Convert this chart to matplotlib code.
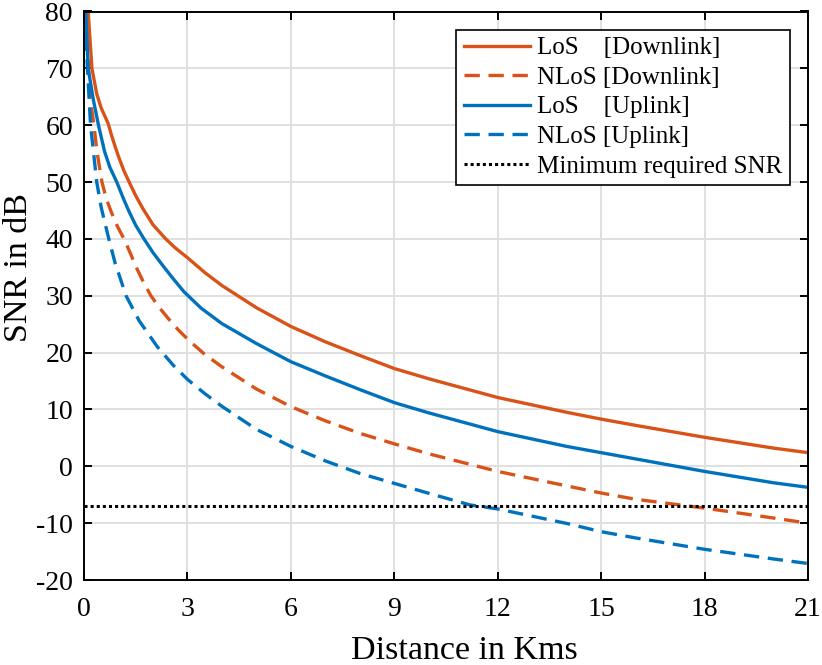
import matplotlib
matplotlib.use("Agg")
import matplotlib.pyplot as plt

# ---- data ----
los_dl_x = [0.12, 0.23, 0.37, 0.5, 0.7, 0.8, 0.9, 1.0, 1.15, 1.31, 1.5, 1.7, 2.0, 2.37, 2.65, 3.0, 3.5, 4.0, 5.0, 6.0, 7.0, 8.0, 9.0, 10.0, 12.0, 14.0, 15.0, 16.0, 18.0, 20.0, 21.0]
los_dl_y = [80, 70, 65.5, 63, 60.3, 58.2, 56.3, 54.5, 52.1, 50, 47.6, 45.4, 42.5, 40, 38.4, 36.7, 34.1, 31.8, 27.9, 24.6, 21.9, 19.5, 17.2, 15.4, 12.1, 9.5, 8.3, 7.2, 5.1, 3.2, 2.4]

nlos_dl_x = [0.05, 0.17, 0.29, 0.37, 0.52, 0.65, 0.8, 0.97, 1.16, 1.35, 1.5, 1.7, 1.94, 2.2, 2.5, 2.75, 3.05, 3.5, 4.0, 5.0, 6.0, 7.0, 8.0, 9.0, 10.0, 12.0, 14.0, 15.0, 16.0, 18.0, 20.0, 21.0]
nlos_dl_y = [80, 65, 60, 55.6, 50, 47, 44.6, 42.2, 40, 37.4, 35.2, 32.7, 30, 27.8, 25.6, 23.9, 22.1, 19.7, 17.5, 13.6, 10.5, 8.0, 5.8, 3.95, 2.2, -0.9, -3.45, -4.7, -5.8, -7.35, -9.1, -10.0]

los_ul_x = [0.05, 0.12, 0.27, 0.42, 0.6, 0.75, 0.95, 1.15, 1.3, 1.5, 1.74, 2.0, 2.3, 2.6, 2.9, 3.4, 4.0, 5.0, 6.0, 7.0, 8.0, 9.0, 10.0, 12.0, 14.0, 15.0, 16.0, 18.0, 20.0, 21.0]
los_ul_y = [80, 70, 64.5, 60, 55.3, 52.6, 50, 47, 44.9, 42.4, 40, 37.6, 35.2, 32.9, 30.7, 27.8, 25.1, 21.6, 18.4, 15.9, 13.5, 11.2, 9.4, 6.1, 3.5, 2.4, 1.3, -0.9, -2.9, -3.7]

nlos_ul_x = [0.02, 0.1, 0.19, 0.37, 0.5, 0.72, 0.9, 1.22, 1.6, 2.13, 2.6, 3.0, 3.5, 4.0, 5.0, 6.0, 7.0, 8.0, 9.0, 10.0, 11.2, 12.0, 14.0, 15.0, 16.0, 18.0, 20.0, 21.0]
nlos_ul_y = [80, 70, 60, 50, 45.5, 40, 35.8, 30, 25.6, 21.0, 17.7, 15.3, 12.8, 10.55, 6.5, 3.5, 0.95, -1.25, -3.0, -4.75, -6.8, -7.5, -10.05, -11.5, -12.6, -14.6, -16.3, -17.1]

min_snr_x = [0, 21]
min_snr_y = [-7, -7]

labels = ["LoS    [Downlink]", "NLoS [Downlink]", "LoS    [Uplink]", "NLoS [Uplink]", "Minimum required SNR"]
x_ticks = [0, 3, 6, 9, 12, 15, 18, 21]
y_ticks = [-20, -10, 0, 10, 20, 30, 40, 50, 60, 70, 80]

ORANGE = "#D95319"
BLUE = "#0072BD"

plt.rcParams['font.family'] = ['Liberation Serif', 'DejaVu Serif']
plt.rcParams['axes.unicode_minus'] = False

fig = plt.figure(figsize=(8.22, 6.65), dpi=100)
ax = fig.add_axes([84/822, 1-580/665, (808-84)/822, (580-11.5)/665])

lw = 2.4
dash = (4.6, 2.6)
ax.plot(los_dl_x, los_dl_y, color=ORANGE, lw=lw, label=labels[0])
ax.plot(nlos_dl_x, nlos_dl_y, color=ORANGE, lw=lw, ls=(0, dash), label=labels[1])
ax.plot(los_ul_x, los_ul_y, color=BLUE, lw=lw, label=labels[2])
ax.plot(nlos_ul_x, nlos_ul_y, color=BLUE, lw=lw, ls=(0, dash), label=labels[3])
ax.plot(min_snr_x, min_snr_y, color="black", lw=2.2, ls=(0, (1.0, 1.0)), label=labels[4])

ax.set_xlim(0, 21)
ax.set_ylim(-20, 80)
ax.set_xticks(x_ticks)
ax.set_yticks(y_ticks)
ax.grid(True, color="#e0e0e0", lw=1.4)
ax.set_axisbelow(True)
ax.tick_params(direction="in", length=6, width=1.4, top=True, right=True,
               labelsize=20)
ax.tick_params(axis="x", pad=12)
ax.tick_params(axis="y", pad=8)
for sp in ax.spines.values():
    sp.set_linewidth(1.4)
ax.set_xlabel("Distance in Kms", fontsize=24.5, va="top")
ax.xaxis.set_label_coords(0.526, -0.097)
ax.set_ylabel("SNR in dB", fontsize=24.5, va="center")
ax.yaxis.set_label_coords(-0.0898, 0.55)

leg = ax.legend(loc="upper right", fontsize=18, frameon=True, fancybox=False,
                edgecolor="black", framealpha=1, borderaxespad=0.72,
                handlelength=2.65, handletextpad=0.3, labelspacing=0.28,
                borderpad=0.3)
leg.get_frame().set_linewidth(1.2)

fig.savefig("out.png", dpi=100)
